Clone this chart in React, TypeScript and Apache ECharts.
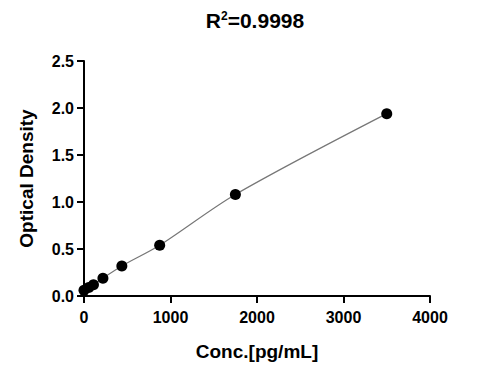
import React, { useEffect, useRef } from "react";
import * as echarts from "echarts";

const concentrations = [0, 54.7, 109.4, 218.75, 437.5, 875, 1750, 3500];
const odValues = [0.06, 0.09, 0.12, 0.19, 0.32, 0.54, 1.08, 1.94];
const xTicks = [0, 1000, 2000, 3000, 4000];
const yTicks = [0, 0.5, 1.0, 1.5, 2.0, 2.5];
const titleText = "0.9998";

const FONT = "Arial, 'Liberation Sans', Helvetica, sans-serif";

export default function App() {
  const ref = useRef<HTMLDivElement>(null);
  useEffect(() => {
    if (!ref.current) return;
    const chart = echarts.init(ref.current, null, { renderer: "svg" });
    const pts = concentrations.map((c, i) => [c, odValues[i]]);
    chart.setOption({
      animation: false,
      backgroundColor: "#ffffff",
      title: {
        text: "{r|R}{s|2}{r|=" + titleText + "}",
        left: 250,
        textAlign: "center",
        top: 5,
        textStyle: {
          rich: {
            r: { fontFamily: FONT, fontWeight: "bold", fontSize: 21, color: "#000" },
            s: { fontFamily: FONT, fontWeight: "bold", fontSize: 12, color: "#000", verticalAlign: "top", padding: [0, 0, 9, 0] },
          },
        },
      },
      grid: { left: 84, right: 48, top: 61, bottom: 77, containLabel: false },
      xAxis: {
        type: "value",
        min: xTicks[0],
        max: xTicks[xTicks.length - 1],
        interval: 1000,
        name: "Conc.[pg/mL]",
        nameLocation: "middle",
        nameGap: 46,
        nameTextStyle: { fontFamily: FONT, fontWeight: "bold", fontSize: 19, color: "#000" },
        axisLine: { lineStyle: { color: "#000", width: 2 } },
        axisTick: { show: true, length: 7, lineStyle: { color: "#000", width: 2 } },
        axisLabel: {
          fontFamily: FONT,
          fontWeight: "bold",
          fontSize: 16,
          color: "#000",
          margin: 13,
          formatter: (v: number) => String(v),
        },
        splitLine: { show: false },
      },
      yAxis: {
        type: "value",
        min: yTicks[0],
        max: yTicks[yTicks.length - 1],
        interval: 0.5,
        name: "Optical Density",
        nameLocation: "middle",
        nameGap: 48,
        nameTextStyle: { fontFamily: FONT, fontWeight: "bold", fontSize: 19, color: "#000" },
        axisLine: { lineStyle: { color: "#000", width: 2 } },
        axisTick: { show: true, length: 7, lineStyle: { color: "#000", width: 2 } },
        axisLabel: {
          fontFamily: FONT,
          fontWeight: "bold",
          fontSize: 16,
          color: "#000",
          margin: 10,
          formatter: (v: number) => v.toFixed(1),
        },
        splitLine: { show: false },
      },
      series: [
        {
          type: "line",
          data: pts,
          smooth: 0.3,
          showSymbol: false,
          lineStyle: { color: "#777777", width: 1.2 },
          z: 1,
        },
        {
          type: "scatter",
          data: pts,
          symbol: "circle",
          symbolSize: 11,
          itemStyle: { color: "#000", opacity: 1 },
          z: 2,
        },
      ],
    });
    return () => chart.dispose();
  }, []);
  return <div ref={ref} style={{ width: 478, height: 373, margin: -8 }} />;
}
